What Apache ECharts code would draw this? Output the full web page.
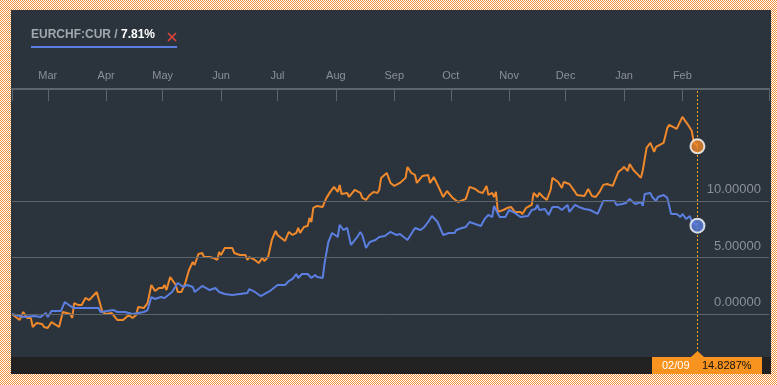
<!DOCTYPE html>
<html><head><meta charset="utf-8">
<script src="https://cdn.jsdelivr.net/npm/echarts@6/dist/echarts.min.js"></script>
<style>
html,body{margin:0;padding:0;width:777px;height:385px;overflow:hidden;}
body{background-color:#fff;background-image:url("data:image/svg+xml,%3Csvg xmlns='http://www.w3.org/2000/svg' width='2' height='2'%3E%3Crect width='1' height='1' fill='%23ef8f3c'/%3E%3Crect x='1' y='1' width='1' height='1' fill='%23ef8f3c'/%3E%3C/svg%3E");background-size:2px 2px;image-rendering:pixelated;}
#panel{position:absolute;left:11px;top:10px;width:760px;height:364px;background:#2b333d;}
#chart{position:absolute;left:0;top:0;width:777px;height:385px;}
</style></head><body><div id="panel"></div><div id="chart"></div>
<script>
// ---- data ----
const startDate = [2015, 1, 10];          // first day of the window (Feb 10, 2015)
const axisEndDays = 402;                  // axis extends to ~Mar 18, 2016
const monthNames = ['Jan','Feb','Mar','Apr','May','Jun','Jul','Aug','Sep','Oct','Nov','Dec'];
const labelMonths = 12;                   // Mar 2015 .. Feb 2016
const yTicks = [0, 5, 10];
const blueName = 'EURCHF:CUR';

// EURCHF:CUR (blue) — days since start, % change
const blueDays = [
  0,6,12,15,18,19,21,26,27,28,
  31,33,40,46,47,54,56,60,64,70,
  72,74,76,79,81,85,88,91,93,96,
  97,101,105,108,110,113,117,121,125,126,
  129,132,134,137,141,145,147,149,151,152,
  154,157,159,161,162,165,166,168,170,173,
  174,176,178,180,183,185,186,188,190,193,
  195,198,201,202,204,206,208,210,214,217,
  219,221,223,226,229,232,235,236,239,241,
  243,246,249,251,253,255,256,259,262,264,
  267,270,271,274,276,278,279,280,283,285,
  287,290,292,295,296,299,301,304,307,308,
  311,314,317,320,321,324,326,328,331,332,
  334,335,336,339,340,342,343,346,348,350,
  353,355,356,358,360,361,363,364];
const blueValues = [
  0,-0.27,-0.18,-0.27,0.09,-0.27,0.27,0.27,0.18,1.06,
  0.71,0.53,0.53,0.53,0.18,0.35,0.18,0.18,0,0.18,
  0.35,1.5,1.33,1.5,1.42,1.95,2.74,2.39,2.57,2.39,
  1.95,2.48,2.12,2.3,1.95,1.77,1.68,1.77,1.86,2.21,
  1.95,1.59,1.77,2.04,2.57,2.57,2.92,3.1,3.54,3.19,
  3.54,3.54,3.19,3.45,3.27,3.19,4.51,6.37,7.17,6.81,
  7.88,7.43,7.61,6.11,6.73,7.26,6.99,5.84,6.37,6.55,
  6.81,6.9,7.26,7.17,6.99,7.08,6.81,6.55,7.61,7.43,
  7.7,8.14,8.67,8.14,6.99,7.17,7.17,7.43,7.61,7.7,
  8.14,7.96,7.79,8.41,8.76,8.58,9.56,8.58,8.58,9.2,
  8.94,8.58,8.5,8.67,9.2,9.29,9.65,9.2,9.29,8.76,
  9.47,9.47,9.2,9.65,9.03,9.65,9.47,9.29,9.2,9.29,
  8.85,10,10,10,9.65,9.73,9.82,10.18,9.73,9.65,
  9.91,9.56,10.62,10.71,10.35,10,10.35,10.53,10.27,8.85,
  8.85,8.58,8.85,8.41,8.67,8.14,7.96,7.81];

// main security (orange) — days since start, % change
const orangeDays = [
  0,4,6,8,10,11,13,16,17,19,
  21,25,27,31,32,33,35,37,39,41,
  45,48,50,53,56,59,62,64,66,67,
  70,72,74,76,78,80,81,82,84,87,
  88,90,92,94,96,97,99,101,102,105,
  107,109,110,111,113,117,118,121,124,125,
  126,129,131,133,134,136,137,138,140,141,
  143,145,147,149,151,152,153,155,157,158,
  159,160,162,165,166,167,169,171,173,174,
  175,178,179,182,185,186,188,190,192,194,
  195,196,199,201,202,203,206,209,210,212,
  214,215,218,221,222,224,226,229,231,234,
  235,237,241,243,246,248,250,252,253,255,
  256,257,258,261,263,265,267,270,271,273,
  276,277,279,280,282,284,286,287,290,292,
  293,296,299,300,304,305,306,308,310,312,
  314,316,319,322,324,325,327,328,330,332,
  334,335,337,339,340,341,342,346,348,349,
  351,353,356,359,361,362,364];
const orangeValues = [
  0,-0.53,0.18,-0.35,-0.35,-1.15,-0.8,-0.88,-1.15,-1.24,
  -0.71,-1.15,0.18,0,-0.35,0.97,0.8,0.8,1.42,1.24,
  1.95,0.18,0,0.09,-0.53,-0.53,-0.09,-0.35,-0.09,0.62,
  0.53,0.97,2.57,2.04,2.3,2.3,2.57,2.12,3.27,2.57,
  1.95,1.95,2.74,3.89,4.6,4.34,5.31,5.4,5.04,5.04,
  4.96,4.78,5.49,5.22,5.84,5.84,5.4,5.22,5.22,4.78,
  5.04,4.78,4.51,4.96,4.69,5.04,4.96,6.55,7.35,6.99,
  6.73,6.46,7.26,6.99,7.17,7.61,7.17,7.7,7.79,8.5,
  8.14,9.38,9.56,9.47,9.91,10.27,10.8,11.24,10.8,11.42,
  10.62,10.71,10.35,10.97,10.71,10.27,10.09,10.53,10.8,10.71,
  10.97,12.04,12.48,11.59,11.68,11.33,11.59,12.04,13.01,12.48,
  12.3,11.59,12.21,12.3,11.59,12.12,11.42,10.35,10.88,10.27,
  10.44,9.91,10.18,11.24,11.06,10.8,10.71,11.33,10.53,10.71,
  10.35,10.8,9.03,9.2,9.38,9.47,9.03,9.03,8.85,9.38,
  9.65,10.71,10.35,10.71,10.35,10.09,10.97,12.04,11.68,11.15,
  11.68,11.5,10.8,10.53,10.44,10.27,11.06,10.44,10.35,10.8,
  11.42,11.5,11.33,12.57,12.83,13.01,12.65,13.27,12.74,12.39,
  12.04,12.74,14.69,15.13,14.96,14.34,14.78,15.13,16.46,16.73,
  16.55,16.37,17.43,16.73,16.19,15.22,14.8287];

// ---- chart ----
const DAY = 86400000;
const startTime = new Date(startDate[0], startDate[1], startDate[2]).getTime();
const axisMax = startTime + axisEndDays * DAY;
const toTime = d => startTime + d * DAY;
const pairs = (days, vals) => days.map((d, i) => [toTime(d), vals[i]]);
const blueData = pairs(blueDays, blueValues);
const orangeData = pairs(orangeDays, orangeValues);
const lastBlue = blueData[blueData.length - 1];
const lastOrange = orangeData[orangeData.length - 1];
const monthStarts = [];
for (let i = 0; i < labelMonths; i++) monthStarts.push(new Date(startDate[0], startDate[1] + 1 + i, 1).getTime());

const ORANGE = '#f0892b', BLUE = '#5b7fe0', GRIDC = '#5e646c', TXT = '#8b9099';
const FONT = 'Liberation Sans, Arial, sans-serif';

const chart = echarts.init(document.getElementById('chart'), null, {renderer: 'canvas'});
chart.setOption({
  animation: false,
  backgroundColor: 'transparent',
  title: {
    text: '{a|' + blueName + ' / }{b|' + lastBlue[1].toFixed(2) + '%}',
    left: 31, top: 29, padding: 0,
    textStyle: {rich: {
      a: {color: '#a3a7ae', fontSize: 12, fontWeight: 'bold', fontFamily: FONT},
      b: {color: '#ffffff', fontSize: 12, fontWeight: 'bold', fontFamily: FONT}
    }}
  },
  grid: {left: 12, right: 8, top: 89, bottom: 28},
  xAxis: {
    type: 'value', position: 'top',
    min: startTime, max: axisMax,
    axisLine: {show: true, onZero: false, lineStyle: {color: GRIDC, width: 2}},
    axisTick: {show: true, inside: true, length: 12, lineStyle: {color: GRIDC, width: 1},
      customValues: [startTime].concat(monthStarts, [axisMax])},
    axisLabel: {color: TXT, fontSize: 11, fontFamily: FONT, margin: 8,
      customValues: monthStarts, hideOverlap: false, showMinLabel: true, showMaxLabel: true,
      formatter: v => monthNames[new Date(v).getMonth()]},
    splitLine: {show: false}
  },
  yAxis: {type: 'value', min: -3.8, max: 19.9, show: false},
  series: [
    { type: 'line', data: [], silent: true,
      markLine: { silent: true, symbol: ['none', 'none'],
        lineStyle: {color: GRIDC, width: 1, type: 'solid'},
        label: {show: true, position: 'insideEndTop', distance: [8, 5], color: TXT,
          fontSize: 13, fontFamily: FONT, formatter: p => Number(p.value).toFixed(5)},
        data: yTicks.map(v => ({yAxis: v}))
      }
    },
    { name: 'orange', type: 'line', data: orangeData, showSymbol: false, symbol: 'none',
      lineStyle: {color: ORANGE, width: 2}, itemStyle: {color: ORANGE} },
    { name: blueName, type: 'line', data: blueData, showSymbol: false, symbol: 'none',
      lineStyle: {color: BLUE, width: 2}, itemStyle: {color: BLUE} },
    { type: 'scatter', data: [lastOrange], symbolSize: 14, z: 5,
      itemStyle: {color: ORANGE, borderColor: '#ffffff', borderWidth: 2} },
    { type: 'scatter', data: [lastBlue], symbolSize: 14, z: 5,
      itemStyle: {color: BLUE, borderColor: '#ffffff', borderWidth: 2} }
  ]
});

// decorations and the end-date badge, placed from the axis scale
const pxRaw = chart.convertToPixel({xAxisIndex: 0, yAxisIndex: 0}, [lastOrange[0], 0])[0];
const px = Math.round(pxRaw);
const bandTop = 385 - 28;
const ld = new Date(lastOrange[0]);
const dateTxt = String(ld.getMonth() + 1).padStart(2, '0') + '/' + String(ld.getDate()).padStart(2, '0');
const dashes = [];
for (let y = 91; y < bandTop; y += 4) {
  dashes.push({type: 'rect', shape: {x: px, y: y, width: 1, height: 2}, style: {fill: '#f9a51c'}, z: 3});
}
chart.setOption({
  graphic: [
    {type: 'rect', shape: {x: 11, y: bandTop, width: 760, height: 17}, style: {fill: '#212121'}, z: 1},
    {type: 'rect', shape: {x: 31, y: 46, width: 146, height: 2}, style: {fill: BLUE}, z: 10},
    {type: 'line', shape: {x1: 168, y1: 33, x2: 176, y2: 41}, style: {stroke: '#e5453b', lineWidth: 1.6}, z: 10},
    {type: 'line', shape: {x1: 176, y1: 33, x2: 168, y2: 41}, style: {stroke: '#e5453b', lineWidth: 1.6}, z: 10},
    {type: 'polygon', shape: {points: [[px - 6, bandTop], [px + 0.5, bandTop - 6], [px + 7, bandTop]]}, style: {fill: '#f7931e'}, z: 10},
    {type: 'rect', shape: {x: px - 45, y: bandTop, width: 110, height: 17}, style: {fill: '#f7931e'}, z: 10},
    {type: 'text', x: px - 35, y: bandTop + 9, style: {text: dateTxt, fill: '#ffffff', font: '11px ' + FONT, verticalAlign: 'middle'}, z: 11},
    {type: 'text', x: px + 5, y: bandTop + 9, style: {text: lastOrange[1].toFixed(4) + '%', fill: '#111111', font: '11px ' + FONT, verticalAlign: 'middle'}, z: 11}
  ].concat(dashes)
});
</script></body></html>
